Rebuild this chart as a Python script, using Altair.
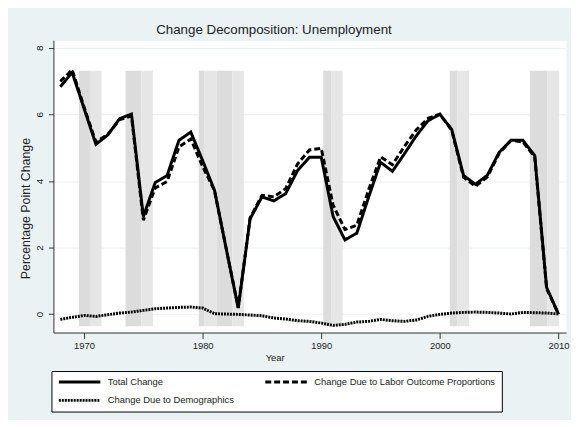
import altair as alt
import pandas as pd

years = list(range(1968, 2011))
total_change = [6.83, 7.26, 6.18, 5.10, 5.38, 5.87, 6.01, 2.93, 3.95, 4.16,
                5.22, 5.47, 4.61, 3.72, 1.94, 0.18, 2.86, 3.52, 3.40, 3.62,
                4.31, 4.71, 4.71, 2.93, 2.23, 2.43, 3.52, 4.56, 4.29, 4.81,
                5.35, 5.81, 6.00, 5.55, 4.16, 3.90, 4.17, 4.86, 5.22, 5.22,
                4.76, 0.80, 0.00]
labor_change = [6.99, 7.34, 6.22, 5.17, 5.40, 5.84, 5.95, 2.82, 3.79, 3.98,
                5.02, 5.26, 4.43, 3.71, 1.94, 0.19, 2.89, 3.57, 3.52, 3.77,
                4.51, 4.93, 4.98, 3.27, 2.54, 2.67, 3.74, 4.72, 4.49, 5.03,
                5.53, 5.88, 6.01, 5.52, 4.11, 3.84, 4.12, 4.83, 5.22, 5.17,
                4.72, 0.77, 0.00]
demog_change = [-0.16, -0.10, -0.04, -0.07, -0.02, 0.03, 0.06, 0.11, 0.16, 0.18,
                 0.20, 0.21, 0.18, 0.01, 0.00, -0.01, -0.03, -0.05, -0.12, -0.15,
                 -0.20, -0.22, -0.27, -0.34, -0.31, -0.24, -0.22, -0.16, -0.20, -0.22,
                 -0.18, -0.07, -0.01, 0.03, 0.05, 0.06, 0.05, 0.03, 0.00, 0.05,
                 0.04, 0.03, 0.00]
series_names = ["Total Change", "Change Due to Labor Outcome Proportions",
                "Change Due to Demographics"]

band_start = [1969.58, 1970.50, 1973.50, 1974.83, 1979.67, 1980.17, 1981.17,
              1982.50, 1990.17, 1990.83, 2000.83, 2001.47, 2007.58, 2009.08]
band_end = [1970.50, 1971.47, 1974.83, 1975.80, 1980.17, 1981.17, 1982.50,
            1983.47, 1990.83, 1991.80, 2001.47, 2002.47, 2009.08, 2010.06]
band_shade = ["dark", "light"] * 7
band_bottom = -0.37
band_top = 7.31

x_ticks = [1970, 1980, 1990, 2000, 2010]
y_ticks = [0, 2, 4, 6, 8]

rows = []
for name, vals in zip(series_names, [total_change, labor_change, demog_change]):
    for yr, v in zip(years, vals):
        rows.append({"Year": yr, "value": v, "series": name})
lines_df = pd.DataFrame(rows)

bands_df = pd.DataFrame({
    "start": band_start, "end": band_end, "shade": band_shade,
    "lo": [band_bottom] * len(band_start), "hi": [band_top] * len(band_start),
})

FONT = "Liberation Sans"
xscale = alt.Scale(domain=[1967.42, 2010.64], nice=False, zero=False)
yscale = alt.Scale(domain=[-0.555, 8.23], nice=False, zero=False)

xaxis = alt.Axis(values=x_ticks, format="d", title="Year", tickSize=6,
                 labelPadding=2, titlePadding=3, grid=False, domainColor="#333333",
                 tickColor="#333333", labelFontSize=9.5, titleFontSize=9.5,
                 labelFont=FONT, titleFont=FONT, titleFontWeight="normal",
                 labelColor="#222222", titleColor="#222222", titleX=224)
yaxis = alt.Axis(values=y_ticks, title="Percentage Point Change", tickSize=5,
                 labelAngle=270, labelAlign="center", labelBaseline="bottom",
                 labelPadding=4, titlePadding=2, grid=True, gridColor="#EAF2F3",
                 domainColor="#333333", tickColor="#333333", labelFontSize=10,
                 titleFontSize=12.5, labelFont=FONT, titleFont=FONT,
                 titleFontWeight="normal", labelColor="#222222", titleColor="#222222",
                 titleY=170)

bands = alt.Chart(bands_df).mark_rect().encode(
    x=alt.X("start:Q", scale=xscale, axis=xaxis),
    x2="end:Q",
    y=alt.Y("lo:Q", scale=yscale, axis=yaxis),
    y2="hi:Q",
    color=alt.Color("shade:N", scale=alt.Scale(domain=["dark", "light"],
                                                range=["#DCDCDC", "#E6E6E6"]),
                    legend=None),
)

lines = alt.Chart(lines_df).mark_line(color="black", strokeWidth=3).encode(
    x=alt.X("Year:Q", scale=xscale, axis=xaxis),
    y=alt.Y("value:Q", scale=yscale, axis=yaxis),
    strokeDash=alt.StrokeDash(
        "series:N",
        scale=alt.Scale(domain=series_names, range=[[1, 0], [6, 3], [2, 1]]),
        legend=alt.Legend(
            title=None, orient="none", legendX=-2, legendY=335, columns=2,
            direction="horizontal", columnPadding=30, rowPadding=8.7, padding=6,
            fillColor="white", strokeColor="black", symbolType="stroke",
            symbolSize=1764, clipHeight=10, symbolStrokeWidth=3,
            symbolStrokeColor="black", labelFontSize=9.5, labelFont=FONT,
            labelColor="#222222", labelOffset=6, labelLimit=300,
        ),
    ),
    detail="series:N",
)

chart = alt.layer(bands, lines).properties(
    width=519, height=296,
    autosize=alt.AutoSizeParams(type="none"),
    padding={"left": 46, "top": 30, "right": 5, "bottom": 86},
    background="#EAF2F3",
    title=alt.TitleParams("Change Decomposition: Unemployment", anchor="start",
                          frame="group", dx=104, dy=11, fontSize=13.5, font=FONT,
                          fontWeight="normal", color="#222222", offset=4,
                          baseline="alphabetic"),
).configure_view(fill="white", stroke="transparent")

chart.save("out.html", embed_options={"renderer": "svg", "actions": False})
